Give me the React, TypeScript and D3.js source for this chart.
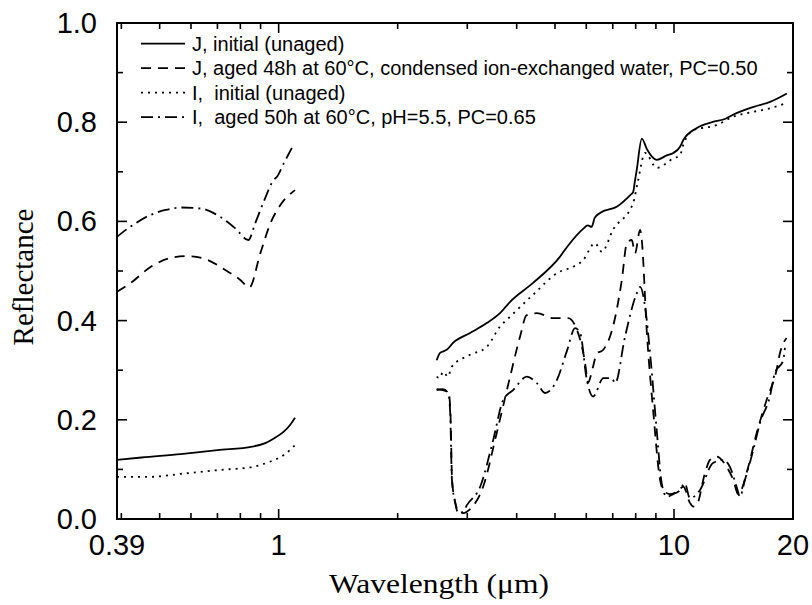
import React from 'react';
import * as d3 from 'd3';

// [wavelength (µm), reflectance]
const jInitialVis: [number, number][] = [
  [0.39, 0.119], [0.45, 0.124], [0.565, 0.131], [0.70, 0.139], [0.858, 0.146],
  [0.925, 0.153], [0.97, 0.162], [1.03, 0.176], [1.07, 0.19], [1.10, 0.204],
];
const jInitialIr: [number, number][] = [
  [2.51, 0.32], [2.56, 0.335], [2.61, 0.338], [2.66, 0.341], [2.76, 0.355], [3.05, 0.375],
  [3.36, 0.395], [3.63, 0.415], [3.85, 0.438], [4.40, 0.476], [5.15, 0.529], [5.37, 0.549],
  [5.89, 0.585], [6.05, 0.592], [6.19, 0.589], [6.3, 0.607], [6.5, 0.617], [7.18, 0.63],
  [7.75, 0.653], [7.88, 0.659], [7.97, 0.683], [8.05, 0.704], [8.29, 0.767], [8.55, 0.745],
  [9.04, 0.724], [9.58, 0.733], [9.96, 0.738], [10.35, 0.75], [10.56, 0.764], [11.4, 0.788],
  [12.6, 0.801], [13.5, 0.807], [14.1, 0.815], [15.9, 0.831], [17.5, 0.841], [19.3, 0.858],
];
const iInitialVis: [number, number][] = [
  [0.39, 0.085], [0.474, 0.085], [0.565, 0.091], [0.712, 0.099], [0.858, 0.105],
  [0.953, 0.116], [1.03, 0.129], [1.10, 0.149],
];
const iInitialIr: [number, number][] = [
  [2.51, 0.287], [2.55, 0.284], [2.61, 0.297], [2.68, 0.287], [2.74, 0.307], [3.05, 0.331],
  [3.36, 0.347], [3.63, 0.388], [3.85, 0.408], [4.40, 0.452], [5.15, 0.499], [5.37, 0.504],
  [5.89, 0.522], [6.31, 0.556], [6.57, 0.539], [7.01, 0.583], [7.88, 0.637], [8.1, 0.68],
  [8.45, 0.738], [9.04, 0.708], [9.96, 0.727], [10.35, 0.733], [10.56, 0.755], [11.2, 0.784],
  [12.8, 0.794], [14.1, 0.811], [15.9, 0.821], [17.5, 0.828], [19.3, 0.839],
];
const jAgedVis: [number, number][] = [
  [0.39, 0.458], [0.421, 0.475], [0.474, 0.508], [0.532, 0.526], [0.588, 0.530],
  [0.653, 0.524], [0.733, 0.502], [0.80, 0.482], [0.843, 0.467], [0.899, 0.536],
  [0.953, 0.596], [1.01, 0.633], [1.10, 0.663],
];
const jAgedIr: [number, number][] = [
  [2.51, 0.262], [2.6, 0.26], [2.69, 0.255], [2.72, 0.214], [2.745, 0.08], [2.8, 0.032],
  [2.85, 0.015], [2.93, 0.012], [3.05, 0.02], [3.29, 0.065], [3.56, 0.173], [3.85, 0.287],
  [4.08, 0.368], [4.24, 0.411], [4.5, 0.415], [4.95, 0.405], [5.4, 0.405], [5.62, 0.39],
  [5.96, 0.314], [6.06, 0.275], [6.24, 0.307], [6.38, 0.334], [6.6, 0.34], [7.01, 0.388],
  [7.38, 0.482], [7.6, 0.556], [7.82, 0.5625], [7.97, 0.536], [8.21, 0.583], [8.29, 0.5625],
  [8.53, 0.381], [8.87, 0.213], [9.22, 0.079], [9.4, 0.058], [9.77, 0.05], [10.16, 0.055],
  [10.56, 0.065], [10.98, 0.032], [11.19, 0.025], [11.41, 0.028], [11.98, 0.093],
  [12.33, 0.119], [12.82, 0.126], [13.59, 0.105], [14.12, 0.079], [14.54, 0.05],
  [15.41, 0.105], [16.18, 0.173], [17.15, 0.24], [18.17, 0.3], [18.53, 0.334], [19.27, 0.365],
];
const iAgedVis: [number, number][] = [
  [0.39, 0.569], [0.421, 0.589], [0.474, 0.613], [0.517, 0.623], [0.565, 0.628],
  [0.634, 0.626], [0.712, 0.609], [0.777, 0.586], [0.838, 0.5625], [0.873, 0.597],
  [0.92, 0.643], [0.97, 0.683], [0.99, 0.69], [1.03, 0.717], [1.09, 0.754],
];
const iAgedIr: [number, number][] = [
  [2.51, 0.26], [2.6, 0.262], [2.685, 0.254], [2.716, 0.214], [2.743, 0.08], [2.797, 0.032],
  [2.846, 0.012], [2.93, 0.015], [2.993, 0.028], [3.234, 0.065], [3.488, 0.159], [3.698, 0.24],
  [3.918, 0.26], [4.244, 0.287], [4.498, 0.274], [4.72, 0.254], [5.054, 0.28], [5.366, 0.34],
  [5.62, 0.385], [5.79, 0.375], [6.02, 0.28], [6.24, 0.247], [6.63, 0.284], [6.96, 0.284],
  [7.1, 0.274], [7.52, 0.368], [8.05, 0.455], [8.21, 0.468], [8.45, 0.428], [8.7, 0.334],
  [9.04, 0.18], [9.31, 0.072], [9.58, 0.045], [9.96, 0.05], [10.35, 0.058], [10.65, 0.072],
  [10.97, 0.042], [11.63, 0.058], [12.55, 0.113], [13.32, 0.119], [13.85, 0.105],
  [14.4, 0.065], [14.68, 0.045], [15.12, 0.079], [15.87, 0.139], [16.49, 0.193],
  [17.48, 0.247], [17.99, 0.294], [18.89, 0.32], [19.08, 0.345],
];

const legendLabels = [
  'J, initial (unaged)',
  'J, aged 48h at 60°C, condensed ion-exchanged water, PC=0.50',
  'I,  initial (unaged)',
  'I,  aged 50h at 60°C, pH=5.5, PC=0.65',
];
const xMajorTicks = [1, 10];
const xMinorTicks = [0.4, 0.5, 0.6, 0.7, 0.8, 0.9, 2, 3, 4, 5, 6, 7, 8, 9];
const xTickLabels = [0.39, 1, 10, 20];
const yMajorTicks = [0, 0.2, 0.4, 0.6, 0.8, 1.0];
const yMinorTicks = [0.1, 0.3, 0.5, 0.7, 0.9];

const seriesData = [
  { segs: [jInitialVis, jInitialIr], dash: '' },
  { segs: [jAgedVis, jAgedIr], dash: '10,7' },
  { segs: [iInitialVis, iInitialIr], dash: '2,5' },
  { segs: [iAgedVis, iAgedIr], dash: '12,5,2,5' },
];

export default function App() {
  const W = 812, H = 605;
  const L = 117, R = 793, T = 23, B = 519;
  const x = d3.scaleLog().domain([0.39, 20]).range([L, R]);
  const y = d3.scaleLinear().domain([0, 1]).range([B, T]);
  const line = d3
    .line<[number, number]>()
    .x((d) => x(d[0]))
    .y((d) => y(d[1]))
    .curve(d3.curveMonotoneX);

  const sans = 'Liberation Sans, Arial, sans-serif';
  const serif = 'Liberation Serif, Times New Roman, serif';
  const majLen = 10, minLen = 6;

  return (
    <svg width={W} height={H} style={{ position: 'absolute', left: 0, top: 0, background: '#fff' }}>
      <rect x={0} y={0} width={W} height={H} fill="#fff" />
      {/* data */}
      {seriesData.map((s, i) =>
        s.segs.map((seg, j) => (
          <path
            key={`${i}-${j}`}
            d={line(seg) || ''}
            fill="none"
            stroke="#000"
            strokeWidth={1.8}
            strokeDasharray={s.dash || undefined}
          />
        ))
      )}
      {/* frame */}
      <rect x={L} y={T} width={R - L} height={B - T} fill="none" stroke="#000" strokeWidth={2} />
      {/* y ticks */}
      {yMajorTicks.map((v) => (
        <g key={`ym${v}`}>
          <line x1={L} x2={L + majLen} y1={y(v)} y2={y(v)} stroke="#000" strokeWidth={1.6} />
          <line x1={R} x2={R - majLen} y1={y(v)} y2={y(v)} stroke="#000" strokeWidth={1.6} />
          <text x={97} y={y(v) + 10} textAnchor="end" fontFamily={sans} fontSize={29}>
            {v.toFixed(1)}
          </text>
        </g>
      ))}
      {yMinorTicks.map((v) => (
        <g key={`yn${v}`}>
          <line x1={L} x2={L + minLen} y1={y(v)} y2={y(v)} stroke="#000" strokeWidth={1.6} />
          <line x1={R} x2={R - minLen} y1={y(v)} y2={y(v)} stroke="#000" strokeWidth={1.6} />
        </g>
      ))}
      {/* x ticks */}
      {xMajorTicks.map((v) => (
        <g key={`xm${v}`}>
          <line x1={x(v)} x2={x(v)} y1={B} y2={B - majLen} stroke="#000" strokeWidth={1.6} />
          <line x1={x(v)} x2={x(v)} y1={T} y2={T + majLen} stroke="#000" strokeWidth={1.6} />
        </g>
      ))}
      {xMinorTicks.map((v) => (
        <g key={`xn${v}`}>
          <line x1={x(v)} x2={x(v)} y1={B} y2={B - minLen} stroke="#000" strokeWidth={1.6} />
          <line x1={x(v)} x2={x(v)} y1={T} y2={T + minLen} stroke="#000" strokeWidth={1.6} />
        </g>
      ))}
      {xTickLabels.map((v) => (
        <text key={`xl${v}`} x={x(v)} y={555} textAnchor="middle" fontFamily={sans} fontSize={29}>
          {String(v)}
        </text>
      ))}
      {/* axis titles */}
      <text
        x={439}
        y={593}
        textAnchor="middle"
        fontFamily={serif}
        fontSize={28}
        textLength={220}
        lengthAdjust="spacingAndGlyphs"
      >
        Wavelength (μm)
      </text>
      <text
        transform="translate(33,277) rotate(-90)"
        textAnchor="middle"
        fontFamily={serif}
        fontSize={29}
      >
        Reflectance
      </text>
      {/* legend */}
      {legendLabels.map((lab, i) => {
        const base = 50.7 + i * 24.5;
        const ly = base - 7;
        return (
          <g key={`lg${i}`}>
            <line
              x1={141}
              x2={185}
              y1={ly}
              y2={ly}
              stroke="#000"
              strokeWidth={1.8}
              strokeDasharray={seriesData[i].dash || undefined}
            />
            <text x={192} y={base} fontFamily={sans} fontSize={20} style={{ whiteSpace: 'pre' }}>
              {lab}
            </text>
          </g>
        );
      })}
    </svg>
  );
}
